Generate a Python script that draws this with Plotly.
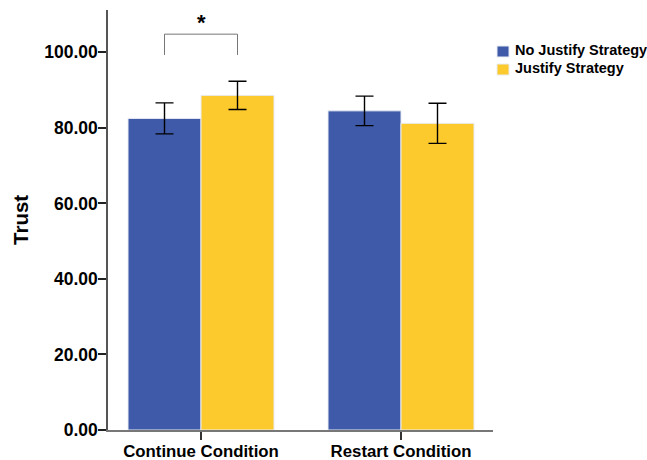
import plotly.graph_objects as go

categories = ["Continue Condition", "Restart Condition"]
series_names = ["No Justify Strategy", "Justify Strategy"]
no_justify = [82.5, 84.5]
no_justify_err = [4.1, 3.9]
justify = [88.6, 81.2]
justify_err = [3.75, 5.3]
y_ticks = [0, 20, 40, 60, 80, 100]
y_tick_labels = ["0.00", "20.00", "40.00", "60.00", "80.00", "100.00"]

colors = ["#3F5AA8", "#FDCA2E"]
FONT = "Liberation Sans, Arial, Helvetica, sans-serif"

fig = go.Figure()
for name, vals, errs, col in [(series_names[0], no_justify, no_justify_err, colors[0]),
                              (series_names[1], justify, justify_err, colors[1])]:
    fig.add_trace(go.Bar(
        name=name, x=categories, y=vals, showlegend=False,
        marker=dict(color=col, line=dict(color="#E8ECF4", width=1)),
        error_y=dict(type="data", array=errs, visible=True, color="black",
                     thickness=1.4, width=9),
    ))

bargap = 0.27
half = (1 - bargap) / 4
# significance bracket between the two bars of the first category
bx0, bx1 = 0 - half, 0 + half
ytop, ybot = 104.8, 99.3
line = dict(color="#777777", width=1)
fig.add_shape(type="line", xref="x", yref="y", x0=bx0, x1=bx0, y0=ybot, y1=ytop, line=line)
fig.add_shape(type="line", xref="x", yref="y", x0=bx0, x1=bx1, y0=ytop, y1=ytop, line=line)
fig.add_shape(type="line", xref="x", yref="y", x0=bx1, x1=bx1, y0=ybot, y1=ytop, line=line)
fig.add_annotation(x=0, y=ytop, xref="x", yref="y", text="*", showarrow=False,
                   yanchor="bottom", yshift=-3,
                   font=dict(size=22, color="black", family=FONT, weight="bold"))

# legend (drawn manually to match the original's compact layout)
leg_rows = [(0.9143, 0.8881, 0.9037), (0.8714, 0.8452, 0.8609)]
for (y0, y1, yt), name, col in zip(leg_rows, series_names, colors):
    fig.add_shape(type="rect", xref="paper", yref="paper", x0=1.0104, x1=1.0416,
                  y0=y1, y1=y0, fillcolor=col, line=dict(color="#E8ECF4", width=1))
    fig.add_annotation(xref="paper", yref="paper", x=1.0545, y=yt, text=name,
                       showarrow=False, xanchor="left", yanchor="middle", borderpad=0,
                       font=dict(size=14.5, color="black", family=FONT, weight="bold"))

# y-axis title
fig.add_annotation(xref="paper", yref="paper", x=-0.2286, y=0.5, text="Trust",
                   textangle=-90, showarrow=False, xanchor="center", yanchor="middle",
                   font=dict(size=20.5, color="black", family=FONT, weight="bold"))

fig.update_layout(
    width=647, height=460,
    margin=dict(l=108, r=154, t=10, b=30, autoexpand=False),
    paper_bgcolor="white", plot_bgcolor="white",
    barmode="group", bargap=bargap, bargroupgap=0,
    font=dict(family=FONT, color="black", size=14, weight="bold"),
    showlegend=False,
    xaxis=dict(range=[-0.465, 1.46], showline=True, linecolor="#777777", linewidth=1.5,
               ticks="outside", ticklen=8, tickcolor="#333333", tickwidth=1.5,
               ticklabelstandoff=-3,
               tickfont=dict(size=16.8, family=FONT, color="black", weight="bold"),
               showgrid=False, zeroline=False, automargin=False),
    yaxis=dict(range=[0, 111.2], tickvals=y_ticks, ticktext=y_tick_labels,
               showline=True, linecolor="#555555", linewidth=1.5,
               ticks="outside", ticklen=8, tickcolor="#222222", tickwidth=1.5,
               ticklabelstandoff=-3,
               tickfont=dict(size=17.5, family=FONT, color="black", weight="bold"),
               showgrid=False, zeroline=False, automargin=False),
)

fig.write_html("out.html", config={"displayModeBar": False},
               post_script="document.body.style.margin='0';")
